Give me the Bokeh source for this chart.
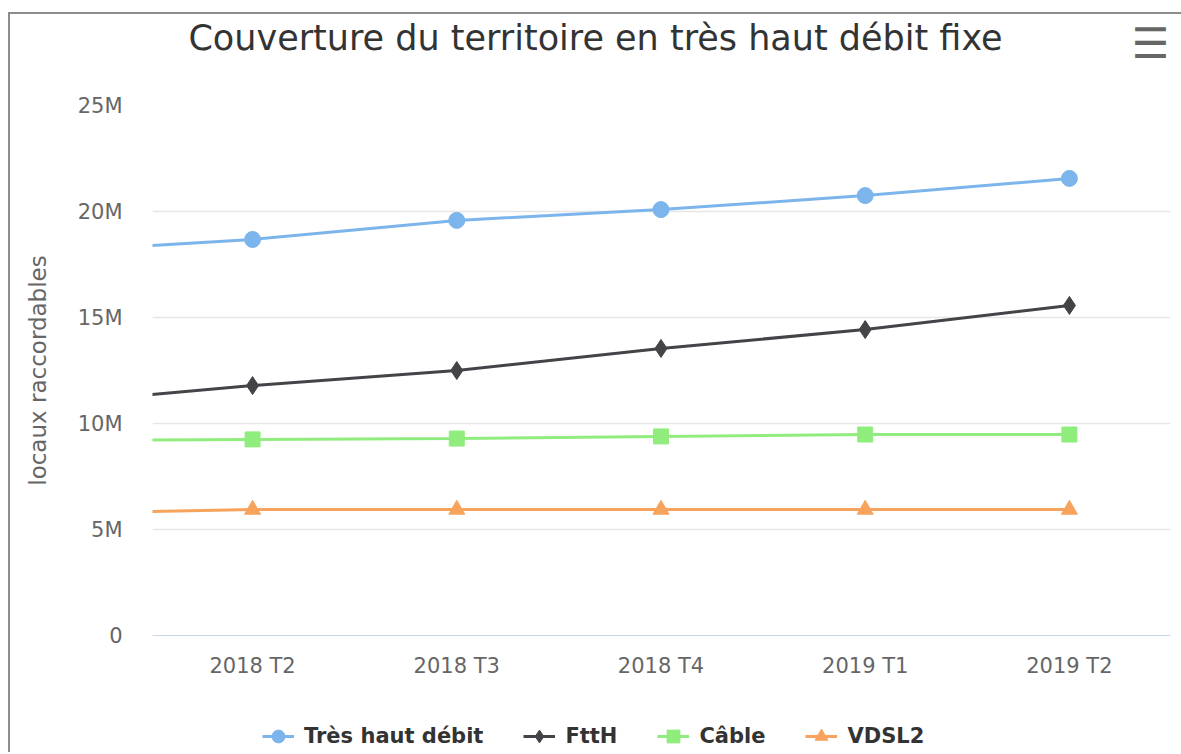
import numpy as np
from bokeh.plotting import figure
from bokeh.layouts import column
from bokeh.models import Range1d, FixedTicker, Legend, LegendItem, Label
from bokeh.embed import file_html
from bokeh.resources import INLINE

categories = ["2018 T1", "2018 T2", "2018 T3", "2018 T4", "2019 T1", "2019 T2"]
tres_haut_debit = [18.10e6, 18.68e6, 19.58e6, 20.09e6, 20.75e6, 21.56e6]
ftth = [10.93e6, 11.79e6, 12.50e6, 13.54e6, 14.43e6, 15.57e6]
cable = [9.20e6, 9.25e6, 9.29e6, 9.39e6, 9.48e6, 9.48e6]
vdsl2 = [5.76e6, 5.94e6, 5.94e6, 5.94e6, 5.94e6, 5.94e6]
y_ticks = [0, 5e6, 10e6, 15e6, 20e6, 25e6]
y_tick_labels = ["0", "5M", "10M", "15M", "20M", "25M"]

series = [
    ("Très haut débit", tres_haut_debit, "#7cb5ec", "circle", 16),
    ("FttH", ftth, "#434348", "diamond", 18),
    ("Câble", cable, "#90ed7d", "square", 15),
    ("VDSL2", vdsl2, "#f7a35c", "triangle", 16),
]

FONT = "DejaVu Sans"
x = np.arange(len(categories)) - 1  # first quarter lies left of the visible window

W = 1171
TOP_H, LEG_H = 76, 71
FRAME_L, FRAME_R_PAD, FRAME_H, TOP_PAD, BOT_PAD = 142, 11, 530, 15, 46
FRAME_R = W - FRAME_R_PAD


def blank_fig(h):
    # frames of a column are aligned, so x runs in canvas pixels from FRAME_L to FRAME_R
    f = figure(width=W, height=h, output_backend="svg", toolbar_location=None,
               x_axis_location=None, y_axis_location=None,
               x_range=Range1d(FRAME_L, FRAME_R), y_range=Range1d(h, 0),
               min_border=0, min_border_left=FRAME_L, min_border_right=FRAME_R_PAD,
               min_border_top=0, min_border_bottom=0)
    f.outline_line_color = None
    f.xgrid.visible = False
    f.ygrid.visible = False
    f.background_fill_color = "white"
    f.border_fill_color = "white"
    return f


# --- header: title + menu icon ---
head = blank_fig(TOP_H)
head.add_layout(Label(x=585, y=23, text="Couverture du territoire en très haut débit fixe",
                      text_font=FONT, text_font_size="35px", text_color="#333333",
                      text_align="center", text_baseline="middle"))
head.add_layout(Label(x=1140, y=29, text="☰", text_font=FONT, text_font_size="42px",
                      text_font_style="bold", text_color="#666666",
                      text_align="center", text_baseline="middle"))

# --- main chart ---
p = figure(width=W, height=TOP_PAD + FRAME_H + BOT_PAD, output_backend="svg",
           toolbar_location=None, x_range=Range1d(-0.49, 4.495), y_range=Range1d(0, 25e6),
           min_border_left=FRAME_L, min_border_right=FRAME_R_PAD,
           min_border_top=TOP_PAD, min_border_bottom=BOT_PAD)
p.outline_line_color = None
p.background_fill_color = "white"
p.border_fill_color = "white"

p.xaxis.ticker = FixedTicker(ticks=list(x))
p.xaxis.major_label_overrides = {int(i): c for i, c in zip(x, categories)}
p.xaxis.axis_line_color = "#ccd6eb"
p.xaxis.major_tick_line_color = None
p.xaxis.minor_tick_line_color = None
p.xaxis.major_tick_out = 0
p.xaxis.major_tick_in = 0
p.xaxis.major_label_text_font = FONT
p.xaxis.major_label_text_font_size = "21px"
p.xaxis.major_label_text_color = "#666666"
p.xaxis.major_label_standoff = 18
p.xgrid.grid_line_color = None

p.yaxis.ticker = FixedTicker(ticks=y_ticks)
p.yaxis.major_label_overrides = {int(t): l for t, l in zip(y_ticks, y_tick_labels)}
p.yaxis.axis_line_color = None
p.yaxis.major_tick_line_color = None
p.yaxis.minor_tick_line_color = None
p.yaxis.major_tick_out = 0
p.yaxis.major_tick_in = 0
p.yaxis.major_label_text_font = FONT
p.yaxis.major_label_text_font_size = "21px"
p.yaxis.major_label_text_color = "#666666"
p.yaxis.major_label_standoff = 30
p.yaxis.axis_label = "locaux raccordables"
p.yaxis.axis_label_text_font = FONT
p.yaxis.axis_label_text_font_size = "23px"
p.yaxis.axis_label_text_font_style = "normal"
p.yaxis.axis_label_text_color = "#666666"
p.yaxis.axis_label_standoff = 24
p.ygrid.grid_line_color = "#e6e6e6"
p.ygrid.grid_line_width = 1.5

for name, vals, color, marker, size in series:
    p.line(x, vals, line_color=color, line_width=3)
    p.scatter(x, vals, marker=marker, size=size, fill_color=color, line_color=color)

# --- legend strip ---
leg = blank_fig(LEG_H)
items = []
for name, vals, color, marker, size in series:
    ln = leg.line([np.nan], [np.nan], line_color=color, line_width=3)
    sc = leg.scatter([np.nan], [np.nan], marker=marker, fill_color=color, line_color=color)
    items.append(LegendItem(label=name, renderers=[ln, sc]))
legend = Legend(items=items, orientation="horizontal", location=(252 - FRAME_L, 0),
                glyph_width=32, glyph_height=32, label_standoff=10, spacing=40,
                padding=0, margin=0, border_line_color=None, background_fill_alpha=0,
                label_text_font=FONT, label_text_font_size="21px",
                label_text_font_style="bold", label_text_color="#333333")
leg.add_layout(legend, "center")

layout = column(head, p, leg, spacing=0)
layout.margin = (12, 0, 0, 8)
layout.styles = {"border-left": "2px solid #8c8c8c", "border-top": "2px solid #8c8c8c"}

open("out.html", "w").write(file_html(layout, INLINE))
